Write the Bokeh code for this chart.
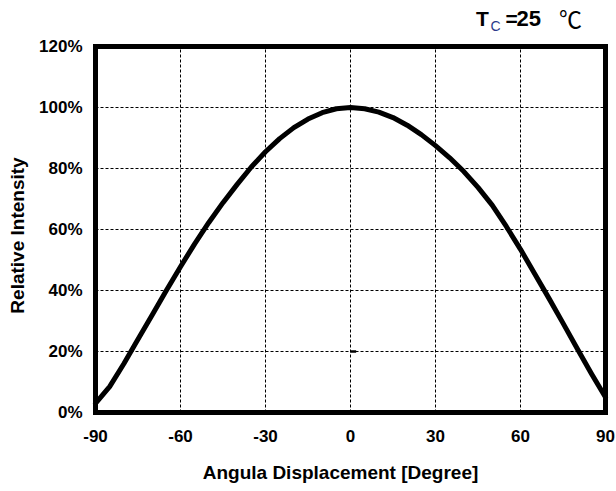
import math
from bokeh.plotting import figure
from bokeh.models import Range1d
from bokeh.core.properties import value
from bokeh.embed import file_html
from bokeh.resources import INLINE

# ---- data ----
angle_deg = [-90, -85, -80, -75, -70, -65, -60, -55, -50, -45, -40, -35, -30, -25, -20, -15, -10, -5, 0,
             5, 10, 15, 20, 25, 30, 35, 40, 45, 50, 55, 60, 65, 70, 75, 80, 85, 90]
intensity_pct = [3, 8.5, 16, 24, 32, 40, 47.8, 55.3, 62.3, 68.8, 74.8, 80.5, 85.5, 89.8, 93.4, 96.2, 98.3, 99.6, 100,
                 99.6, 98.5, 96.7, 94.2, 91.1, 87.5, 83.5, 79, 73.8, 68, 61, 53.5, 45.5, 37.5, 29.3, 21, 12.8, 5]
x_ticks = [-90, -60, -30, 0, 30, 60, 90]
y_ticks = [0, 20, 40, 60, 80, 100, 120]
x_tick_labels = [str(t) for t in x_ticks]
y_tick_labels = [f"{t}%" for t in y_ticks]
mark_x = [0, 2]
mark_y = [20, 20]
x_title = "Angula Displacement [Degree]"
y_title = "Relative Intensity"

FONT = "Liberation Sans"

# ---- layout: the plot area covers the whole canvas; the chart box maps to
#      x: -90..90 -> 95..605 px, y: 0..120 % -> 412..46 px
W, H = 616, 491
BOX_L, BOX_R, BOX_B, BOX_T = 95, 605, 412, 46
kx = (BOX_R - BOX_L) / (x_ticks[-1] - x_ticks[0])
ky = (BOX_B - BOX_T) / (y_ticks[-1] - y_ticks[0])
def dx(px):  # page x -> degrees
    return x_ticks[0] + (px - BOX_L) / kx
def dy(py):  # page y -> percent
    return y_ticks[0] + (BOX_B - py) / ky

p = figure(width=W, height=H, output_backend="svg", toolbar_location=None,
           x_axis_location=None, y_axis_location=None,
           x_range=Range1d(dx(0), dx(W)), y_range=Range1d(dy(H), dy(0)),
           min_border=0, min_border_left=0, min_border_right=0, min_border_top=0, min_border_bottom=0)
p.background_fill_color = "white"
p.border_fill_color = "white"
p.outline_line_color = None
p.grid.visible = False

# dashed grid lines at the inner ticks
p.segment(x0=x_ticks[1:-1], y0=[y_ticks[0]] * 5, x1=x_ticks[1:-1], y1=[y_ticks[-1]] * 5,
          line_color="black", line_width=1, line_dash="3 2")
p.segment(x0=[x_ticks[0]] * 5, y0=y_ticks[1:-1], x1=[x_ticks[-1]] * 5, y1=y_ticks[1:-1],
          line_color="black", line_width=1, line_dash="3 2")

# data curve
p.line(angle_deg, intensity_pct, line_color="black", line_width=5, line_join="round", line_cap="round")
p.line(mark_x, mark_y, line_color="black", line_width=2.5)

# chart box
p.quad(left=[x_ticks[0]], right=[x_ticks[-1]], bottom=[y_ticks[0]], top=[y_ticks[-1]],
       fill_color=None, line_color="black", line_width=5, line_join="miter")

# tick labels
p.text(x=[dx(82)] * len(y_ticks), y=y_ticks, text=y_tick_labels, text_align="right", text_baseline="middle",
       text_font=value(FONT), text_font_style="bold", text_font_size="17px", text_color="black")
p.text(x=x_ticks, y=[dy(435.5)] * len(x_ticks), text=x_tick_labels, text_align="center",
       text_baseline="middle", text_font=value(FONT), text_font_style="bold", text_font_size="17px",
       text_color="black")

# axis titles
p.text(x=[dx(340)], y=[dy(471.5)], text=[x_title], text_align="center", text_baseline="middle",
       text_font=value(FONT), text_font_style="bold", text_font_size="19px", text_color="black")
p.text(x=[dx(16.5)], y=[dy(235)], text=[y_title], angle=math.pi / 2, text_align="center",
       text_baseline="middle", text_font=value(FONT), text_font_style="bold", text_font_size="19px",
       text_color="black")

# top-right annotation  T_C = 25 ℃
p.text(x=[dx(475.5)], y=[dy(17.5)], text=["T"], text_align="left", text_baseline="middle",
       text_font=value(FONT), text_font_style="bold", text_font_size="21px", text_color="black")
p.text(x=[dx(490)], y=[dy(25.7)], text=["C"], text_align="left", text_baseline="middle",
       text_font=value(FONT), text_font_style="normal", text_font_size="14px", text_color="#2a3a8a")
p.text(x=[dx(505)], y=[dy(17.5)], text=["="], text_align="left", text_baseline="middle",
       text_font=value(FONT), text_font_style="bold", text_font_size="21px", text_color="black")
p.text(x=[dx(516)], y=[dy(17.5)], text=["25"], text_align="left", text_baseline="middle",
       text_font=value(FONT), text_font_style="bold", text_font_size="22px", text_color="black")
p.text(x=[dx(558.5)], y=[dy(17.5)], text=["℃"], text_align="left", text_baseline="middle",
       text_font=value("Noto Sans CJK SC"), text_font_style="normal", text_font_size="23px",
       text_color="black")

open("out.html", "w").write(file_html(p, INLINE))
